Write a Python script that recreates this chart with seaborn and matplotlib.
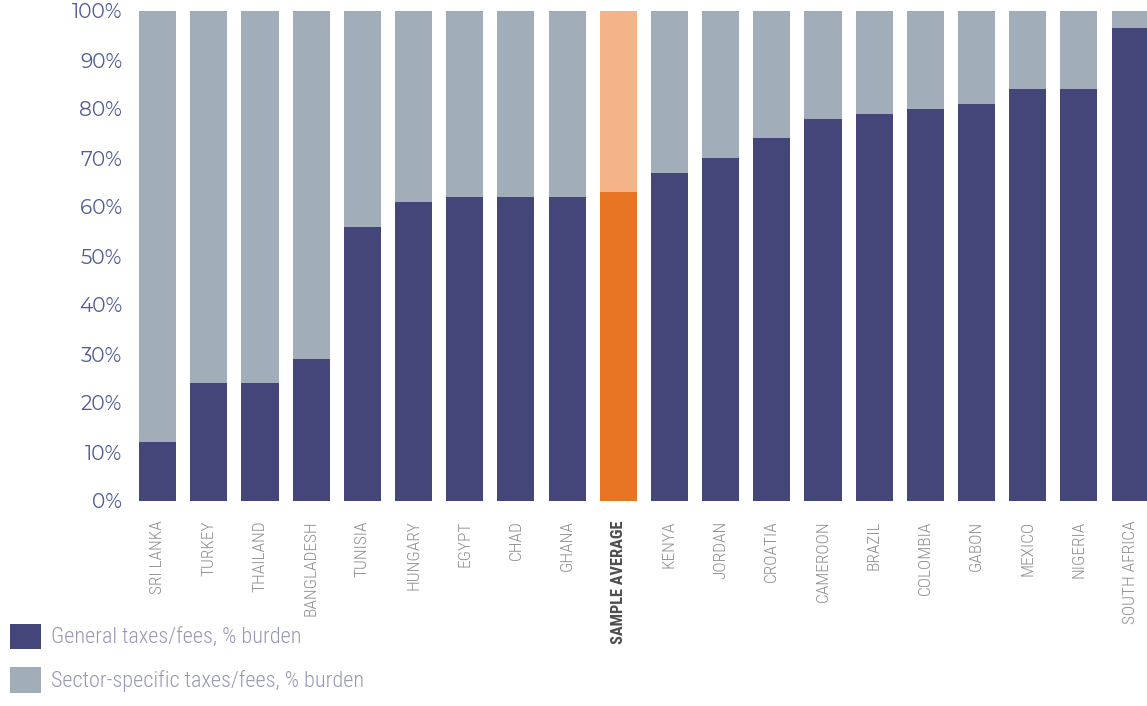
import matplotlib
matplotlib.use("Agg")
import matplotlib.pyplot as plt
from matplotlib import font_manager
from matplotlib.font_manager import FontProperties
from matplotlib.patches import Patch
import seaborn as sns
import pandas as pd

# Share of the tax/fee burden that comes from general taxes, by country
countries = ["SRI LANKA", "TURKEY", "THAILAND", "BANGLADESH", "TUNISIA", "HUNGARY",
             "EGYPT", "CHAD", "GHANA", "SAMPLE AVERAGE", "KENYA", "JORDAN", "CROATIA",
             "CAMEROON", "BRAZIL", "COLOMBIA", "GABON", "MEXICO", "NIGERIA", "SOUTH AFRICA"]
general_pct = [12, 24, 24, 29, 56, 61, 62, 62, 62, 63, 67, 70, 74, 78, 79, 80, 81, 84, 84, 96.5]
total_pct = [100] * len(countries)

legend_labels = ["General taxes/fees, % burden", "Sector-specific taxes/fees, % burden"]
ytick_values = [0, 10, 20, 30, 40, 50, 60, 70, 80, 90, 100]

DARK = "#44467a"
LIGHT = "#a1adb8"
ORANGE = "#e87524"
ORANGE_LIGHT = "#f4b487"
AVG = "SAMPLE AVERAGE"

sns.set_style("white")

fonts = font_manager.fontManager.ttflist


def pick_font(prefer_names, want_condensed, weight):
    """Return the path of the installed face closest to the requested style."""
    best, best_score = None, None
    for f in fonts:
        if f.style != "normal":
            continue
        name_lc = f.name.lower()
        cond = ("condensed" in str(f.stretch) or "narrow" in name_lc
                or "condensed" in name_lc)
        score = 0
        if want_condensed and not cond:
            score += 1000
        if not want_condensed and cond:
            score += 1000
        rank = next((i for i, n in enumerate(prefer_names) if n.lower() in name_lc), len(prefer_names))
        score += rank * 100
        w = f.weight if isinstance(f.weight, int) else 400
        score += abs(w - weight) / 10
        if best_score is None or score < best_score:
            best, best_score = f.fname, score
    return best


narrow_regular = pick_font(["Roboto Condensed", "Liberation Sans Narrow", "DejaVu Sans",
                            "Open Sans", "Noto Sans"], True, 300)
narrow_bold = pick_font(["Roboto Condensed", "Liberation Sans Narrow", "DejaVu Sans",
                         "Open Sans", "Noto Sans"], True, 700)
axis_face = pick_font(["Montserrat", "Lato", "Open Sans"], False, 400)

df = pd.DataFrame({"country": countries, "general": general_pct, "total": total_pct})

fig = plt.figure(figsize=(11.47, 7.06), dpi=100)
ax = fig.add_axes([132 / 1147, 1 - 501 / 706, 1 - 132 / 1147, 490 / 706])

top_colors = [ORANGE_LIGHT if c == AVG else LIGHT for c in countries]
base_colors = [ORANGE if c == AVG else DARK for c in countries]

sns.barplot(data=df, x="country", y="total", hue="country", palette=top_colors,
            width=0.725, legend=False, ax=ax, saturation=1, linewidth=0)
sns.barplot(data=df, x="country", y="general", hue="country", palette=base_colors,
            width=0.725, legend=False, ax=ax, saturation=1, linewidth=0)

ax.set_xlim(-0.5, 19.33)
ax.set_ylim(0, 100)
ax.set_xlabel("")
ax.set_ylabel("")
for s in ax.spines.values():
    s.set_visible(False)

ax.set_yticks(ytick_values)
ax.set_yticklabels([f"{v}%" for v in ytick_values],
                   fontproperties=FontProperties(fname=axis_face, size=14.5),
                   color="#4f5b98")
ax.tick_params(axis="y", length=0, pad=7)

ax.set_xticks(range(len(countries)))
ax.set_xticklabels(countries, rotation=90, va="top", ha="center",
                   fontproperties=FontProperties(fname=narrow_regular, size=12.5),
                   color="#8f8f8f")
ax.tick_params(axis="x", length=0, pad=14)
for lbl in ax.get_xticklabels():
    if lbl.get_text() == AVG:
        lbl.set_fontproperties(FontProperties(fname=narrow_bold, size=11.8))
        lbl.set_color("#4d4d4d")

handles = [Patch(facecolor=DARK, edgecolor="none"), Patch(facecolor=LIGHT, edgecolor="none")]
leg = fig.legend(handles, legend_labels, loc="upper left", bbox_to_anchor=(3 / 1147, 1 - 617 / 706),
                 frameon=False, prop=FontProperties(fname=narrow_regular, size=16),
                 handlelength=1.4, handleheight=1.4, handletextpad=0.45,
                 labelspacing=0.8, borderaxespad=0, borderpad=0.3)
for t in leg.get_texts():
    t.set_color("#9898b6")

fig.savefig("out.png", dpi=100)
